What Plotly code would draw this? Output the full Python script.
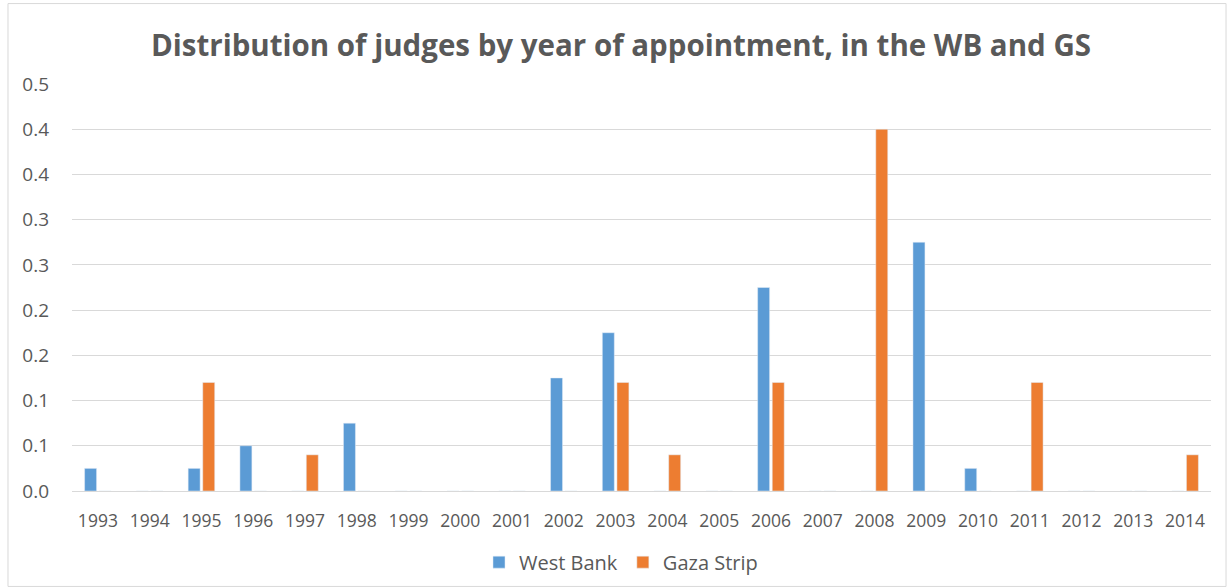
import plotly.graph_objects as go

years = [str(y) for y in range(1993, 2015)]
west_bank = [0.025, 0, 0.025, 0.05, 0, 0.075, 0, 0, 0, 0.125, 0.175, 0, 0, 0.225, 0, 0, 0.275, 0.025, 0, 0, 0, 0]
gaza_strip = [0, 0, 0.12, 0, 0.04, 0, 0, 0, 0, 0, 0.12, 0.04, 0, 0.12, 0, 0.4, 0, 0, 0.12, 0, 0, 0.04]
tick_vals = [0, 0.05, 0.1, 0.15, 0.2, 0.25, 0.3, 0.35, 0.4, 0.45]
tick_text = ["0.0", "0.1", "0.1", "0.2", "0.2", "0.3", "0.3", "0.4", "0.4", "0.5"]

FONT = "Open Sans"
GREY = "#595959"

fig = go.Figure()
fig.add_trace(go.Bar(x=years, y=west_bank, name="West Bank", marker_color="#5B9BD5"))
fig.add_trace(go.Bar(x=years, y=gaza_strip, name="Gaza Strip", marker_color="#ED7D31"))

fig.update_layout(
    width=1228, height=588,
    margin=dict(l=72, r=17, t=84, b=97, autoexpand=False),
    paper_bgcolor="white", plot_bgcolor="white",
    barmode="group", bargap=0.436, bargroupgap=0.18,
    title=dict(text="<b>Distribution of judges by year of appointment, in the WB and GS</b>",
               x=0.482, xref="paper", xanchor="center", y=0.923, yanchor="middle",
               font=dict(family=FONT, size=29.5, color=GREY)),
    font=dict(family=FONT, color=GREY),
    xaxis=dict(type="category", showgrid=False, showline=False, ticks="", automargin=False,
               tickfont=dict(size=17.5, color=GREY), ticklabelstandoff=17),
    yaxis=dict(range=[0, 0.45], tickvals=tick_vals, ticktext=tick_text, automargin=False,
               showgrid=True, gridcolor="#D9D9D9", gridwidth=1, zeroline=True,
               zerolinecolor="#D9D9D9", zerolinewidth=1, showline=False, ticks="",
               tickfont=dict(size=19, color=GREY), ticklabelstandoff=22),
    legend=dict(orientation="h", x=0.482, xanchor="center", yref="container", y=0.044,
                yanchor="middle", bgcolor="rgba(0,0,0,0)",
                font=dict(size=20, color=GREY), itemwidth=30, traceorder="normal"),
    showlegend=True,
    shapes=[dict(type="rect", xref="paper", yref="paper", x0=-0.0562, x1=1.0132,
                 y0=-0.2345, y1=1.1976, line=dict(color="#D9D9D9", width=1),
                 fillcolor="rgba(0,0,0,0)", layer="below")],
)

fig.write_html("out.html")
